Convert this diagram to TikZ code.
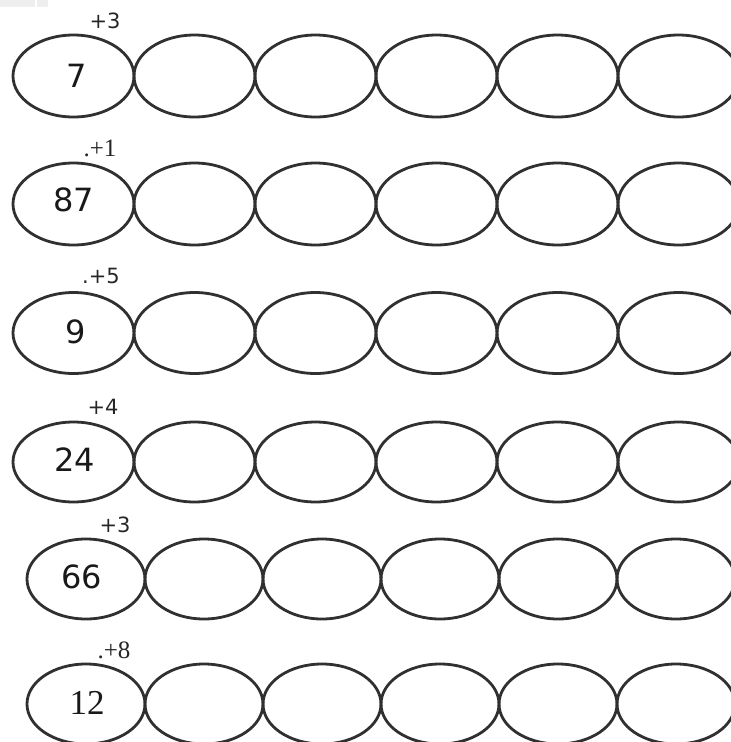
\documentclass[tikz,border=0pt]{standalone}
\usepackage{fontspec}
\setmainfont{Liberation Serif}
\newfontfamily\numfont{DejaVu Sans}
\newfontfamily\labsans{DejaVu Sans}
\newfontfamily\labserif{Liberation Serif}
\usetikzlibrary{shapes.geometric}
\definecolor{inkc}{HTML}{303030}
\definecolor{blockc}{HTML}{EEEEEE}
\tikzset{
  oval/.style={draw=inkc, line width=2.8pt, ellipse, inner sep=0pt, minimum width=#1},
  numtxt/.style={text=black!90, font=\numfont\fontsize{32}{32}\selectfont},
  numserif/.style={text=black!90, font=\labserif\fontsize{35}{35}\selectfont},
  labtxt/.style={text=black!85, font=\labsans\fontsize{21}{21}\selectfont},
  labserif/.style={text=black!85, font=\labserif\fontsize{25}{25}\selectfont},
}
\begin{document}
\begin{tikzpicture}[x=1pt,y=-1pt]
\useasboundingbox (0,0) rectangle (731,742);
\clip (0,0) rectangle (731,742);
\fill[blockc] (0,0) rectangle (35,7);
\fill[blockc] (37,0) rectangle (48,7);
% rows 1-4
\foreach \r/\yy/\hh in {1/76/82, 2/204/82, 3/333/81, 4/462/80} {
  \foreach \i in {0,...,5} {
    \node[oval=121pt, minimum height=\hh pt] (e\r-\i) at ({73.5+121*\i},\yy) {};
  }
}
% rows 5-6
\foreach \r/\yy in {5/579, 6/704} {
  \foreach \i in {0,...,5} {
    \node[oval=118pt, minimum height=80pt] (e\r-\i) at ({86+118*\i},\yy) {};
  }
}
% start numbers
\node[numtxt] (n1) at (77,76) {7};
\node[numtxt] (n2) at (74,200) {87};
\node[numtxt] (n3) at (76,332) {9};
\node[numtxt] (n4) at (75,460) {24};
\node[numtxt] (n5) at (82,577) {66};
\node[numserif] (n6) at (87,703) {12};
% step labels
\node[labtxt] (l1) at (105,21) {+3};
\node[labserif] (l2) at (100,148) {.+1};
\node[labtxt] (l3) at (101,276) {.+5};
\node[labtxt] (l4) at (103,407) {+4};
\node[labtxt] (l5) at (115,525) {+3};
\node[labserif] (l6) at (114,650) {.+8};
\end{tikzpicture}
\end{document}
